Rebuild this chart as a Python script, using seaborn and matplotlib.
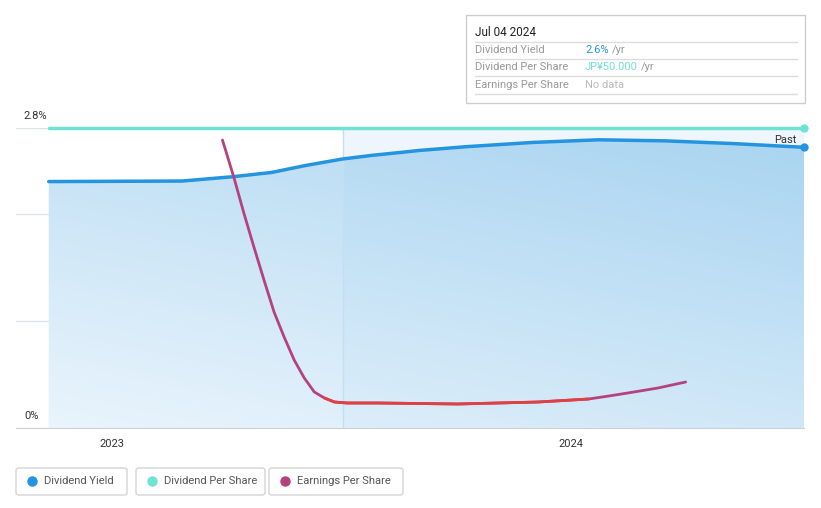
import numpy as np
import pandas as pd
import matplotlib
matplotlib.use("Agg")
import matplotlib.pyplot as plt
import matplotlib.dates as mdates
import matplotlib.transforms as mtransforms
from matplotlib.patches import FancyBboxPatch
from matplotlib.lines import Line2D
import seaborn as sns

# Dividend yield (%)
yield_dates = ["2022-11-12", "2023-02-26", "2023-04-07", "2023-05-08", "2023-06-04",
               "2023-07-03", "2023-07-27", "2023-08-17", "2023-09-02", "2023-10-09",
               "2023-12-01", "2024-01-23", "2024-03-16", "2024-05-08", "2024-07-04"]
yield_values = [2.30, 2.305, 2.345, 2.385, 2.45, 2.51, 2.545, 2.57, 2.59, 2.625,
                2.665, 2.69, 2.68, 2.655, 2.62]

# Dividend per share (JPY)
dps_dates = ["2022-11-12", "2023-07-04", "2024-07-04"]
dps_values = [50.0, 50.0, 50.0]

# Earnings per share (JPY, approximate)
eps_dates = ["2023-03-30", "2023-04-08", "2023-04-16", "2023-04-24", "2023-05-02",
             "2023-05-10", "2023-05-18", "2023-05-26", "2023-06-03", "2023-06-11",
             "2023-06-19", "2023-06-27", "2023-07-07", "2023-08-01", "2023-10-03",
             "2023-12-06", "2024-01-15", "2024-01-31", "2024-02-15", "2024-03-10",
             "2024-04-01"]
eps_values = [288, 251, 215, 181, 148, 116, 91, 68, 50, 36,
              30, 26, 25, 25, 24, 26, 29, 32, 35, 40, 46]

x_ticks = ["2023-01-01", "2024-01-01"]
x_tick_labels = ["2023", "2024"]
past_start = "2023-07-04"
x_limits = ["2022-10-17", "2024-07-04"]

legend_labels = ["Dividend Yield", "Dividend Per Share", "Earnings Per Share"]

BLUE = "#2394df"
TEAL = "#6fe3d3"
MAGENTA = "#b5427f"
RED = "#e0403f"

df_yield = pd.DataFrame({"date": pd.to_datetime(yield_dates), "value": yield_values})
df_dps = pd.DataFrame({"date": pd.to_datetime(dps_dates), "value": dps_values})
df_eps = pd.DataFrame({"date": pd.to_datetime(eps_dates), "value": eps_values})

sns.set_style("white")
plt.rcParams["font.family"] = ["Roboto", "DejaVu Sans"]

W, H = 821, 508
fig = plt.figure(figsize=(W / 100, H / 100), dpi=100)
ax = fig.add_axes([16 / W, 1 - 428 / H, 788 / W, 300 / H])

xl0, xl1 = pd.to_datetime(x_limits)
ax.set_xlim(xl0, xl1)
ax.set_ylim(0, 2.8)

# past-year shading
ps = pd.to_datetime(past_start)
ax.axvspan(ps, xl1, ymin=0, ymax=1, color="#eef5fc", zorder=0, lw=0)

# gradient fill under the yield line
x0n, x1n = mdates.date2num(xl0), mdates.date2num(xl1)
psn = mdates.date2num(ps)
nx, ny = 400, 200
xs = np.linspace(0, 1, nx)
ys = np.linspace(0, 1, ny)
XX, YY = np.meshgrid(xs, ys)
past_mask = (x0n + XX * (x1n - x0n)) >= psn
t = 0.55 * YY + 0.3 * XX + 0.08 * past_mask
t = np.clip(t, 0, 1)
light = np.array([0.92, 0.96, 0.99])
dark = np.array([0.64, 0.82, 0.94])
img = light[None, None, :] * (1 - t[..., None]) + dark[None, None, :] * t[..., None]
poly = ax.fill_between(df_yield["date"], 0, df_yield["value"], color="none", lw=0)
im = ax.imshow(img, extent=[x0n, x1n, 0, 2.8], origin="lower", aspect="auto", zorder=1)
im.set_clip_path(poly.get_paths()[0], transform=ax.transData)
ax.set_xlim(xl0, xl1)
ax.set_ylim(0, 2.8)

ax.axvline(ps, color="#c4def2", lw=1, zorder=2)

# grid
ax.set_yticks([0, 1, 2, 2.8])
ax.set_yticklabels([])
ax.tick_params(axis="y", length=0)
ax.grid(axis="y", color="#d5dce3", lw=1)
for gl in ax.get_ygridlines():
    gl.set_zorder(1.5)
    gl.set_alpha(0.8)

sns.lineplot(data=df_yield, x="date", y="value", ax=ax, color=BLUE, lw=2.5, zorder=5)
ax.get_lines()[-1].set_solid_joinstyle("round")
ax.plot(df_yield["date"].iloc[-1], df_yield["value"].iloc[-1], "o", color=BLUE, ms=5,
        zorder=6, clip_on=False)

for s in ["top", "right", "left"]:
    ax.spines[s].set_visible(False)
ax.spines["bottom"].set_color("#d0d0d0")
ax.set_xticks(pd.to_datetime(x_ticks))
ax.set_xticklabels(x_tick_labels)
ax.tick_params(axis="x", length=5, color="#d0d0d0", labelsize=8, labelcolor="#333333", pad=3)
ax.set_xlabel("")
ax.set_ylabel("")

ax.annotate("2.8%", xy=(0.01, 2.8), xycoords=("axes fraction", "data"), xytext=(0, 5),
            textcoords="offset points", fontsize=8, color="#333333", va="bottom", ha="left")
ax.annotate("0%", xy=(0.01, 0), xycoords=("axes fraction", "data"), xytext=(0, 5),
            textcoords="offset points", fontsize=8, color="#333333", va="bottom", ha="left")
blend = mtransforms.blended_transform_factory(ax.transAxes, ax.transData)
ax.text(0.991, 2.69, "Past", transform=blend, fontsize=8, color="#333333",
        ha="right", va="center", zorder=7)

# earnings per share on its own scale
ax2 = ax.twinx()
ax2.set_ylim(0, 300)
sns.lineplot(data=df_eps, x="date", y="value", ax=ax2, color=MAGENTA, lw=2)
red_part = df_eps[(df_eps["date"] >= "2023-06-19") & (df_eps["date"] <= "2024-01-15")]
sns.lineplot(data=red_part, x="date", y="value", ax=ax2, color=RED, lw=2)
for ln in ax2.get_lines():
    ln.set_solid_joinstyle("round")
    ln.set_solid_capstyle("round")
ax2.axis("off")

# dividend per share on its own scale
ax3 = ax.twinx()
ax3.set_ylim(0, 50)
sns.lineplot(data=df_dps, x="date", y="value", ax=ax3, color=TEAL, lw=2.5)
for ln in ax3.get_lines():
    ln.set_clip_on(False)
ax3.plot(df_dps["date"].iloc[-1], df_dps["value"].iloc[-1], "o", color=TEAL, ms=5, clip_on=False)
ax3.axis("off")
for a in (ax2, ax3):
    a.set_xlim(xl0, xl1)
    if a.get_legend():
        a.get_legend().remove()


def fx(px):
    return px / W


def fy(py):
    return 1 - py / H


# tooltip box
fig.add_artist(FancyBboxPatch((fx(466), fy(103)), fx(339), 88 / H, boxstyle="square,pad=0",
                              fc="white", ec="#cccccc", lw=1, transform=fig.transFigure))
fig.text(fx(475), fy(32), "Jul 04 2024", fontsize=8.5, color="#222222", va="center")
for yy in [42, 59, 76, 94]:
    fig.add_artist(Line2D([fx(475), fx(797)], [fy(yy), fy(yy)], color="#dddddd", lw=1,
                          transform=fig.transFigure))
rows = [("Dividend Yield", "2.6%", BLUE), ("Dividend Per Share", "JP¥50.000", TEAL),
        ("Earnings Per Share", "No data", "#bbbbbb")]
for i, (lab, val, col) in enumerate(rows):
    yy = fy(50 + 17.5 * i)
    fig.text(fx(475), yy, lab, fontsize=8, color="#999999", va="center")
    t_val = fig.text(fx(585), yy, val, fontsize=8, color=col, va="center")
    if val != "No data":
        fig.canvas.draw()
        bb = t_val.get_window_extent()
        fig.text(bb.x1 / W + fx(3), yy, "/yr", fontsize=8, color="#999999", va="center")

# legend chips
chips = [(16, 127, BLUE), (136, 265, TEAL), (269, 403, MAGENTA)]
for (xa, xb, col), lab in zip(chips, legend_labels):
    fig.add_artist(FancyBboxPatch((fx(xa), fy(495)), fx(xb - xa), 27 / H,
                                  boxstyle="round,pad=0,rounding_size=0.004",
                                  fc="white", ec="#d4d4d4", lw=1, transform=fig.transFigure))
    fig.add_artist(Line2D([fx(xa + 16)], [fy(481)], marker="o", ms=6.5, color=col,
                          transform=fig.transFigure))
    fig.text(fx(xa + 28), fy(481), lab, fontsize=8, color="#555555", va="center")

fig.savefig("out.png", dpi=100)
